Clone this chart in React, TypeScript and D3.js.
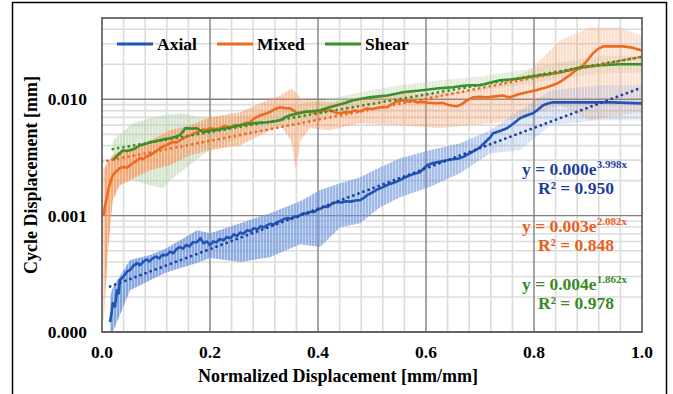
import React from 'react';
import * as d3 from 'd3';

const W = 673, H = 394;
const L = 102, R = 642, T = 18, B = 332;

const FONT = '"Liberation Serif", "Times New Roman", serif';

const seriesNames = ['Axial', 'Mixed', 'Shear'];
const lineColors = ['#1f55b5', '#ee6a1f', '#3b8f2b'];
const bandColors = ['#7096dc', '#f59a62', '#b9d3ad'];
const textColors = ['#1f3f9c', '#e8601c', '#3a8a23'];

const xTicks = [0, 0.2, 0.4, 0.6, 0.8, 1.0];
const yTicks = [0.0001, 0.001, 0.01];
const yTickLabels = ['0.000', '0.001', '0.010'];

// Axial mean
const axialX = [0.015,0.018,0.020,0.024,0.028,0.031,0.033,0.040,0.046,0.052,0.058,0.065,0.070,0.076,0.082,0.088,0.094,0.100,0.106,0.112,0.120,0.126,0.132,0.138,0.144,0.150,0.156,0.162,0.168,0.176,0.182,0.188,0.194,0.200,0.206,0.212,0.218,0.225,0.231,0.238,0.244,0.250,0.256,0.262,0.269,0.275,0.281,0.288,0.294,0.300,0.306,0.312,0.318,0.324,0.330,0.336,0.343,0.350,0.356,0.362,0.367,0.374,0.380,0.386,0.392,0.398,0.405,0.412,0.418,0.424,0.428,0.436,0.444,0.452,0.460,0.470,0.478,0.485,0.491,0.500,0.510,0.520,0.530,0.540,0.552,0.560,0.570,0.580,0.589,0.595,0.602,0.610,0.620,0.630,0.639,0.650,0.663,0.672,0.681,0.690,0.700,0.710,0.719,0.724,0.737,0.750,0.762,0.774,0.786,0.798,0.808,0.817,0.826,0.835,0.885,0.946,1.000];
const axialMean = [0.000122,0.000150,0.000177,0.000165,0.000229,0.000215,0.000279,0.000300,0.000330,0.000341,0.000370,0.000391,0.000375,0.000399,0.000420,0.000405,0.000432,0.000445,0.000430,0.000460,0.000458,0.000490,0.000475,0.000515,0.000537,0.000520,0.000560,0.000545,0.000590,0.000592,0.000640,0.000580,0.000600,0.000558,0.000600,0.000590,0.000630,0.000615,0.000654,0.000640,0.000690,0.000670,0.000715,0.000700,0.000751,0.000735,0.000780,0.000765,0.000810,0.000795,0.000829,0.000850,0.000835,0.000880,0.000900,0.000930,0.000952,0.000940,0.000985,0.000975,0.00101,0.00105,0.00104,0.00108,0.00107,0.00112,0.00115,0.00120,0.00119,0.00125,0.00128,0.00131,0.00130,0.00133,0.00132,0.00135,0.00136,0.00142,0.00150,0.00158,0.00168,0.00176,0.00185,0.00192,0.00202,0.00212,0.00222,0.00230,0.00236,0.00252,0.00271,0.00280,0.00287,0.00293,0.00299,0.00305,0.00312,0.00325,0.00344,0.00362,0.00387,0.00430,0.00472,0.00511,0.00535,0.00564,0.00620,0.00687,0.00725,0.00758,0.00820,0.00888,0.00920,0.00942,0.00942,0.00942,0.00922];
const axialBandX = [0.015,0.020,0.052,0.089,0.120,0.176,0.200,0.256,0.311,0.367,0.404,0.441,0.478,0.515,0.552,0.607,0.663,0.719,0.774,0.830,0.922,1.000];
const axialLow = [0.0001,0.0001,0.000229,0.000279,0.000327,0.000391,0.000432,0.000399,0.00044,0.000569,0.000537,0.000796,0.000862,0.00118,0.00144,0.00176,0.00232,0.00344,0.00365,0.00598,0.0066,0.0066];
const axialHigh = [0.0002,0.000243,0.000415,0.000458,0.000526,0.000751,0.000707,0.000862,0.00105,0.00133,0.00166,0.0019,0.00214,0.00261,0.00312,0.00365,0.00419,0.00542,0.00805,0.0119,0.0132,0.0132];

// Mixed mean
const mixedX = [0.003,0.005,0.009,0.012,0.015,0.020,0.026,0.033,0.040,0.046,0.052,0.058,0.064,0.070,0.076,0.082,0.089,0.095,0.101,0.107,0.113,0.120,0.126,0.132,0.138,0.144,0.150,0.156,0.163,0.170,0.176,0.182,0.188,0.194,0.200,0.210,0.219,0.228,0.237,0.246,0.256,0.265,0.274,0.283,0.293,0.300,0.306,0.315,0.322,0.330,0.339,0.348,0.355,0.361,0.370,0.380,0.391,0.400,0.410,0.422,0.428,0.435,0.445,0.452,0.459,0.468,0.478,0.491,0.500,0.510,0.520,0.528,0.535,0.545,0.557,0.565,0.573,0.583,0.593,0.604,0.612,0.620,0.630,0.640,0.649,0.657,0.665,0.672,0.679,0.687,0.700,0.713,0.728,0.743,0.750,0.756,0.770,0.787,0.805,0.824,0.843,0.852,0.861,0.876,0.891,0.900,0.909,0.918,0.928,0.946,0.965,0.982,1.000];
const mixedMean = [0.00100,0.00118,0.00144,0.00170,0.00190,0.00223,0.00240,0.00256,0.00262,0.00258,0.00271,0.00285,0.00296,0.00312,0.00305,0.00322,0.00331,0.00345,0.00360,0.00380,0.00392,0.00405,0.00419,0.00430,0.00425,0.00445,0.00460,0.00475,0.00491,0.00505,0.00521,0.00535,0.00550,0.00545,0.00564,0.00555,0.00564,0.00590,0.00575,0.00600,0.00598,0.00625,0.00635,0.00690,0.00729,0.00745,0.00758,0.00800,0.00830,0.00854,0.00840,0.00837,0.00800,0.00758,0.00770,0.00790,0.00773,0.00780,0.00795,0.00805,0.00790,0.00758,0.00765,0.00780,0.00773,0.00800,0.00790,0.00837,0.00825,0.00845,0.00860,0.00854,0.00900,0.00950,0.00980,0.00960,0.00975,0.00942,0.00950,0.00935,0.00930,0.00924,0.00935,0.00900,0.00880,0.00871,0.00900,0.00950,0.01000,0.01040,0.01050,0.01040,0.01060,0.01080,0.01050,0.01040,0.01100,0.01150,0.01200,0.01270,0.01370,0.01450,0.01550,0.01750,0.01960,0.02200,0.02480,0.02700,0.02850,0.02860,0.02850,0.02780,0.02630];
const mixedBandX = [0.003,0.011,0.020,0.033,0.052,0.089,0.126,0.163,0.200,0.256,0.293,0.330,0.350,0.359,0.368,0.385,0.422,0.476,0.552,0.626,0.681,0.737,0.793,0.848,0.904,0.959,1.000];
const mixedLow = [0.00012,0.0005,0.00136,0.00183,0.00202,0.00246,0.00271,0.00331,0.00365,0.00403,0.00491,0.00598,0.00445,0.00246,0.00445,0.00564,0.00542,0.00622,0.00598,0.00564,0.00598,0.00635,0.00729,0.00888,0.0066,0.00729,0.00773];
const mixedHigh = [0.0025,0.0029,0.00331,0.0036,0.0038,0.00445,0.00542,0.00598,0.00701,0.00773,0.00924,0.0108,0.0124,0.0115,0.0102,0.0098,0.00942,0.0102,0.0113,0.0113,0.0119,0.0137,0.0177,0.0321,0.0415,0.0415,0.0354];

// Shear mean
const shearX = [0.020,0.026,0.033,0.039,0.046,0.052,0.058,0.064,0.070,0.078,0.089,0.098,0.107,0.116,0.126,0.135,0.144,0.150,0.154,0.165,0.176,0.187,0.196,0.206,0.218,0.231,0.243,0.256,0.268,0.280,0.293,0.306,0.318,0.330,0.339,0.348,0.360,0.372,0.388,0.404,0.420,0.435,0.450,0.465,0.480,0.496,0.512,0.528,0.542,0.557,0.573,0.589,0.605,0.620,0.635,0.650,0.665,0.681,0.700,0.718,0.737,0.755,0.774,0.792,0.811,0.830,0.848,0.866,0.885,0.904,0.922,0.941,0.959,0.980,1.000];
const shearMean = [0.00299,0.00320,0.00344,0.00365,0.00360,0.00365,0.00372,0.00385,0.00403,0.00410,0.00427,0.00435,0.00445,0.00455,0.00463,0.00475,0.00491,0.00530,0.00564,0.00560,0.00564,0.00521,0.00535,0.00542,0.00550,0.00564,0.00580,0.00598,0.00610,0.00622,0.00630,0.00635,0.00645,0.00660,0.00700,0.00729,0.00750,0.00773,0.00790,0.00805,0.00850,0.00888,0.00930,0.00980,0.01010,0.01040,0.01060,0.01080,0.01110,0.01150,0.01170,0.01190,0.01215,0.01240,0.01255,0.01270,0.01300,0.01320,0.01320,0.01390,0.01460,0.01480,0.01510,0.01560,0.01610,0.01650,0.01700,0.01790,0.01880,0.01920,0.01960,0.01980,0.02000,0.02000,0.02000];
const shearBandX = [0.020,0.057,0.089,0.113,0.126,0.150,0.181,0.200,0.219,0.243,0.274,0.293,0.330,0.385,0.441,0.496,0.552,0.626,0.700,0.774,0.848,0.922,1.000];
const shearLow = [0.00246,0.00202,0.00183,0.00172,0.00202,0.00246,0.00318,0.00365,0.00400,0.00445,0.00500,0.00521,0.00564,0.00635,0.00773,0.00888,0.0098,0.0104,0.0119,0.0132,0.0151,0.0167,0.017];
const shearHigh = [0.00445,0.00622,0.00687,0.00729,0.00745,0.00758,0.00701,0.00690,0.00687,0.00705,0.00729,0.00780,0.00837,0.00942,0.0106,0.0119,0.0132,0.0146,0.0157,0.0177,0.0208,0.0234,0.0238];

// Exponential trendline fits y = a*e^(b x)
const trendA = [0.000232, 0.0029, 0.0036];
const trendB = [3.998, 2.082, 1.862];
const trendStart = [0.015, 0, 0.02];
const eqCoef = ['0.000', '0.003', '0.004'];
const eqExp = ['3.998x', '2.082x', '1.862x'];
const eqR2 = ['0.950', '0.848', '0.978'];

export default function App() {
  const x = d3.scaleLinear().domain([0, 1]).range([L, R]);
  const y = d3.scaleLog().domain([0.0001, 0.05]).range([B, T]);

  const line = d3.line<[number, number]>().x(d => x(d[0])).y(d => y(d[1]));
  const area = d3.area<[number, number, number]>()
    .x(d => x(d[0])).y0(d => y(d[1])).y1(d => y(d[2]));

  const means = [
    axialX.map((v, i) => [v, axialMean[i]] as [number, number]),
    mixedX.map((v, i) => [v, mixedMean[i]] as [number, number]),
    shearX.map((v, i) => [v, shearMean[i]] as [number, number]),
  ];
  const bands = [
    axialBandX.map((v, i) => [v, axialLow[i], axialHigh[i]] as [number, number, number]),
    mixedBandX.map((v, i) => [v, mixedLow[i], mixedHigh[i]] as [number, number, number]),
    shearBandX.map((v, i) => [v, shearLow[i], shearHigh[i]] as [number, number, number]),
  ];
  const trends = trendA.map((a, k) =>
    d3.range(trendStart[k], 1.0001, 0.01).map(t => [t, a * Math.exp(trendB[k] * t)] as [number, number])
  );

  const minorX = d3.range(0.04, 1, 0.04).filter(v => Math.abs(v / 0.2 - Math.round(v / 0.2)) > 0.01);
  const minorY: number[] = [];
  [0.0001, 0.001, 0.01].forEach(dec => {
    for (let m = 2; m <= 9; m++) if (dec * m <= 0.05 + 1e-9) minorY.push(dec * m);
  });

  const legendX = [117, 217, 325];
  const eqY = [175, 232, 290];

  return (
    <svg width={W} height={H} style={{ position: 'absolute', left: 0, top: 0, background: '#fff' }}
      fontFamily={FONT} fontWeight="bold">
      <defs>
        <clipPath id="plot"><rect x={L} y={T} width={R - L} height={B - T} /></clipPath>
        <pattern id="stripes" width={3} height={10} patternUnits="userSpaceOnUse">
          <rect x={0} y={0} width={2} height={10} fill="#fff" />
          <rect x={2} y={0} width={1} height={10} fill="#fff" fillOpacity={0.55} />
        </pattern>
        <mask id="stripeMask" maskUnits="userSpaceOnUse" x={0} y={0} width={W} height={H}>
          <rect x={0} y={0} width={W} height={H} fill="url(#stripes)" />
        </mask>
        <linearGradient id="gAxial" x1="0" x2="1" y1="0" y2="0">
          <stop offset="0" stopColor={bandColors[0]} stopOpacity="0.85" />
          <stop offset="0.65" stopColor={bandColors[0]} stopOpacity="0.6" />
          <stop offset="0.75" stopColor={bandColors[0]} stopOpacity="0.28" />
          <stop offset="1" stopColor={bandColors[0]} stopOpacity="0.2" />
        </linearGradient>
        <linearGradient id="gMixed" x1="0" x2="1" y1="0" y2="0">
          <stop offset="0" stopColor={bandColors[1]} stopOpacity="0.85" />
          <stop offset="0.3" stopColor={bandColors[1]} stopOpacity="0.55" />
          <stop offset="0.6" stopColor={bandColors[1]} stopOpacity="0.4" />
          <stop offset="1" stopColor={bandColors[1]} stopOpacity="0.28" />
        </linearGradient>
        <linearGradient id="gShear" x1="0" x2="1" y1="0" y2="0">
          <stop offset="0" stopColor={bandColors[2]} stopOpacity="0.6" />
          <stop offset="0.5" stopColor={bandColors[2]} stopOpacity="0.45" />
          <stop offset="1" stopColor={bandColors[2]} stopOpacity="0.35" />
        </linearGradient>
      </defs>
      <rect x={0} y={0} width={W} height={H} fill="#fff" />
      <rect x={12.5} y={2.5} width={654} height={420} fill="none" stroke="#000" strokeWidth={1.5} />

      {/* minor grid */}
      <g stroke="#dcdcdc" strokeWidth={1.6}>
        {minorX.map((v, i) => <line key={'mx' + i} x1={x(v)} x2={x(v)} y1={T} y2={B} />)}
        {minorY.map((v, i) => <line key={'my' + i} x1={L} x2={R} y1={y(v)} y2={y(v)} />)}
      </g>
      {/* major grid */}
      <g stroke="#808080" strokeWidth={1.4}>
        {xTicks.slice(1, -1).map((v, i) => <line key={'Mx' + i} x1={x(v)} x2={x(v)} y1={T} y2={B} />)}
        {yTicks.map((v, i) => <line key={'My' + i} x1={L} x2={R} y1={y(v)} y2={y(v)} />)}
      </g>

      <g clipPath="url(#plot)">
        <g mask="url(#stripeMask)">
          <path d={area(bands[2]) || ''} fill="url(#gShear)" />
          <path d={area(bands[1]) || ''} fill="url(#gMixed)" />
          <path d={area(bands[0]) || ''} fill="url(#gAxial)" />
        </g>
        {means.map((m, k) => (
          <path key={'m' + k} d={line(m) || ''} fill="none" stroke={lineColors[k]} strokeWidth={2.6} strokeLinejoin="round" />
        ))}
        {trends.map((t, k) => (
          <path key={'t' + k} d={line(t) || ''} fill="none" stroke={k === 0 ? '#1f3f9c' : lineColors[k]}
            strokeWidth={2.8} strokeLinecap="round" strokeDasharray="0.01 5.4" />
        ))}
      </g>

      <rect x={L} y={T} width={R - L} height={B - T} fill="none" stroke="#555" strokeWidth={1.6} />

      {/* y ticks */}
      <g fontSize={17.5} fill="#000" textAnchor="end">
        {yTicks.map((v, i) => (
          <text key={'yt' + i} x={87} y={y(v) + 6}>{yTickLabels[i]}</text>
        ))}
      </g>
      {/* x ticks */}
      <g fontSize={17.5} fill="#000" textAnchor="middle">
        {xTicks.map((v, i) => (
          <text key={'xt' + i} x={x(v)} y={358}>{v.toFixed(1)}</text>
        ))}
      </g>
      <text x={(L + R) / 2 - 34} y={382} fontSize={18} textAnchor="middle">Normalized Displacement [mm/mm]</text>
      <text transform={`translate(37,${(T + B) / 2}) rotate(-90)`} fontSize={18} textAnchor="middle">Cycle Displacement [mm]</text>

      {/* legend */}
      {seriesNames.map((n, k) => (
        <g key={'lg' + k}>
          <line x1={legendX[k]} x2={legendX[k] + 36} y1={44} y2={44} stroke={lineColors[k]} strokeWidth={2.8} />
          <text x={legendX[k] + 40} y={50} fontSize={17.5} fill="#000">{n}</text>
        </g>
      ))}

      {/* equations */}
      {eqCoef.map((c, k) => (
        <g key={'eq' + k} fill={textColors[k]} fontSize={17.5}>
          <text x={522} y={eqY[k]}>
            {'y = ' + c + 'e'}
            <tspan fontSize={11} dy={-7}>{eqExp[k]}</tspan>
          </text>
          <text x={538} y={eqY[k] + 19}>{'R² = ' + eqR2[k]}</text>
        </g>
      ))}
    </svg>
  );
}
